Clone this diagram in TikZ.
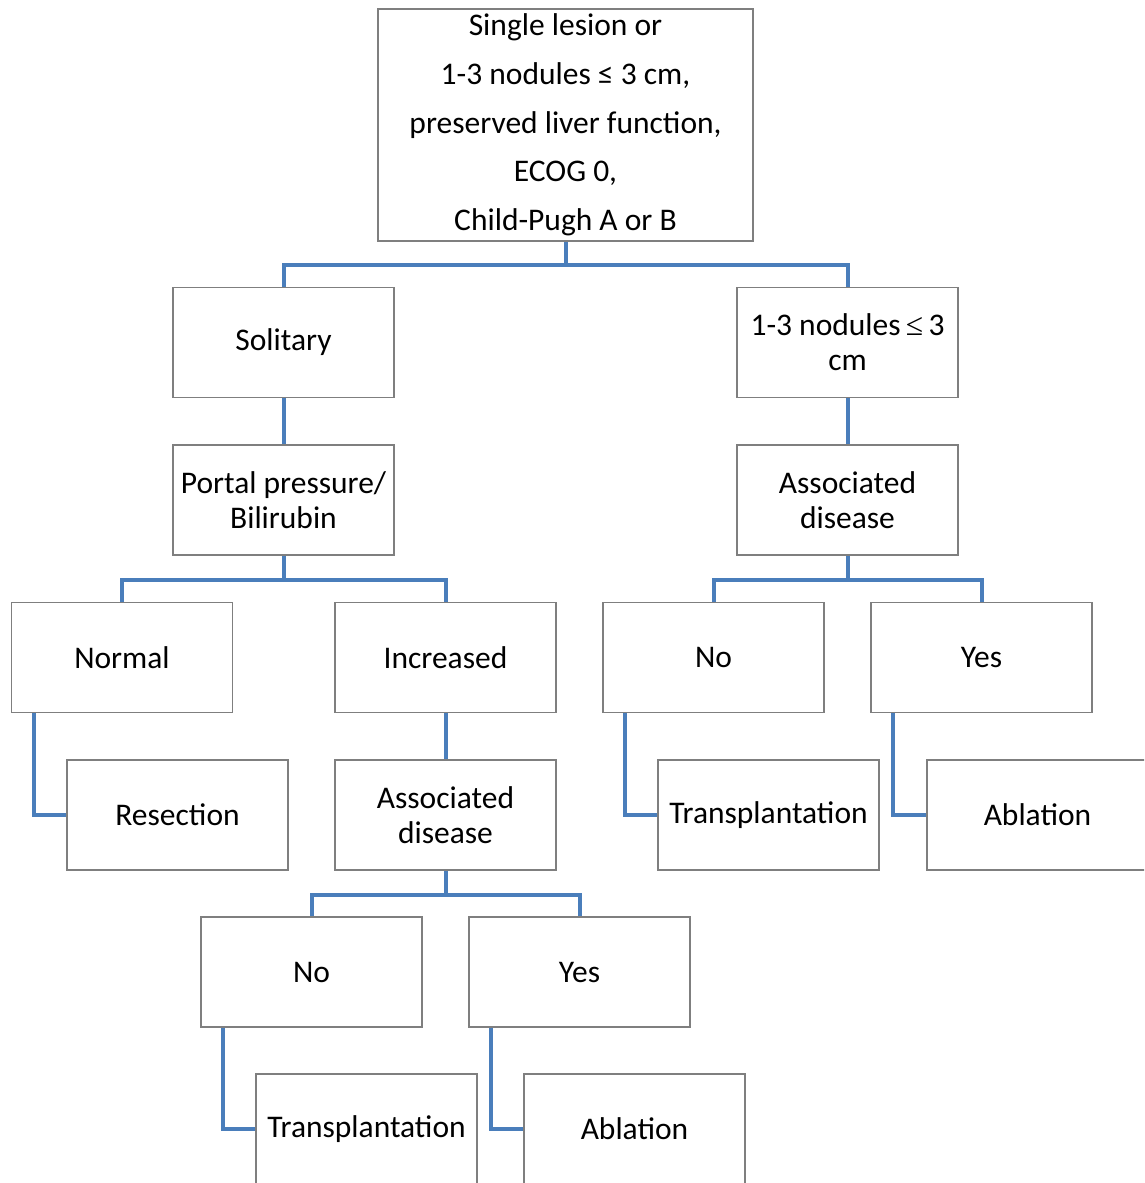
\documentclass[tikz,border=0pt]{standalone}
\usepackage{fontspec}
\setmainfont{Carlito}
\newfontfamily\leqfont{Liberation Serif}
\definecolor{connblue}{HTML}{4A7EBB}
\definecolor{boxgray}{HTML}{7F7F7F}
\tikzset{
  box/.style={draw=boxgray, line width=1.5pt, fill=white, minimum width=221pt, minimum height=110pt,
    inner sep=1pt, align=center, font=\fontsize{31.5}{35}\selectfont},
  conn/.style={draw=connblue, line width=4pt}
}
\begin{document}
\begin{tikzpicture}[x=1pt,y=-1pt]
\useasboundingbox (0,0) rectangle (1144,1183);
\clip (0,0) rectangle (1144,1183);
\fill[white] (0,0) rectangle (1144,1183);
% nodes
\node[box, minimum width=375pt, minimum height=232pt, font=\fontsize{31.5}{48.7}\selectfont] (top) at (565.5,125)
  {Single lesion or\\1-3 nodules ≤ 3 cm,\\preserved liver function,\\ECOG 0,\\Child-Pugh A or B};
\node[box] (sol) at (283.5,342.5) {Solitary};
\node[box] (nod) at (847.5,342.5) {1-3 nodules\,{\leqfont ≤}\,3\\cm};
\node[box] (por) at (283.5,500) {Portal pressure/\\Bilirubin};
\node[box] (assA) at (847.5,500) {Associated\\disease};
\node[box] (nor) at (122,657.5) {Normal};
\node[box] (inc) at (445.5,657.5) {Increased};
\node[box] (noA) at (713.5,657.5) {No};
\node[box] (yesA) at (981.5,657.5) {Yes};
\node[box] (res) at (177.5,815) {Resection};
\node[box] (assB) at (445.5,815) {Associated\\disease};
\node[box] (trA) at (768.5,815) {Transplantation};
\node[box] (abA) at (1037.5,815) {Ablation};
\node[box] (noB) at (311.5,972) {No};
\node[box] (yesB) at (579.5,972) {Yes};
\node[box] (trB) at (366.5,1129) {Transplantation};
\node[box] (abB) at (634.5,1129) {Ablation};
% connectors
\draw[conn] (top.south) -- ++(0,23) -| (sol.north);
\draw[conn] (top.south) -- ++(0,23) -| (nod.north);
\draw[conn] (sol.south) -- (por.north);
\draw[conn] (nod.south) -- (assA.north);
\draw[conn] (por.south) -- ++(0,24) -| (nor.north);
\draw[conn] (por.south) -- ++(0,24) -| (inc.north);
\draw[conn] (assA.south) -- ++(0,24) -| (noA.north);
\draw[conn] (assA.south) -- ++(0,24) -| (yesA.north);
\draw[conn] (inc.south) -- (assB.north);
\draw[conn] (assB.south) -- ++(0,24) -| (noB.north);
\draw[conn] (assB.south) -- ++(0,24) -| (yesB.north);
\draw[conn] ([xshift=-88.5pt]nor.south) |- (res.west);
\draw[conn] ([xshift=-88.5pt]noA.south) |- (trA.west);
\draw[conn] ([xshift=-88.5pt]yesA.south) |- (abA.west);
\draw[conn] ([xshift=-88.5pt]noB.south) |- (trB.west);
\draw[conn] ([xshift=-88.5pt]yesB.south) |- (abB.west);
\end{tikzpicture}
\end{document}
